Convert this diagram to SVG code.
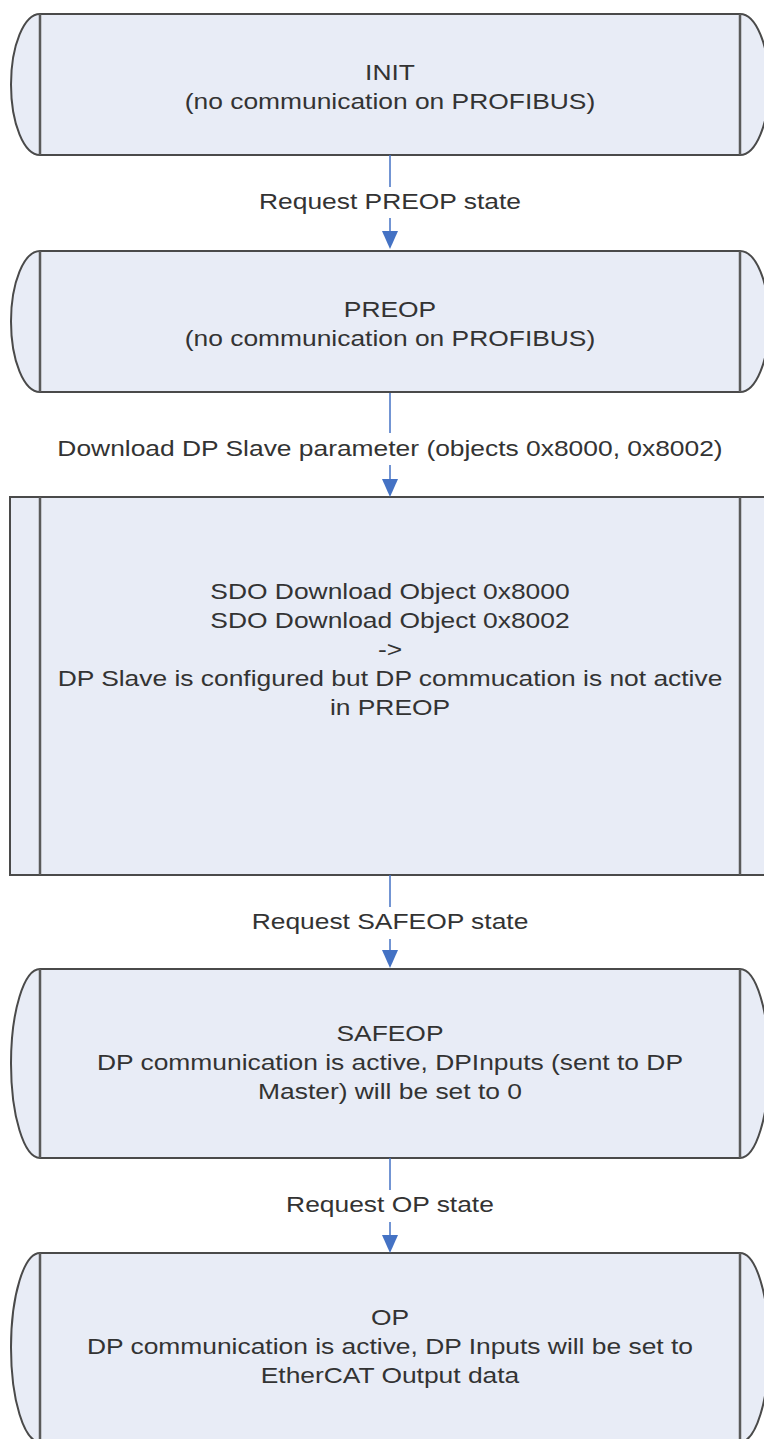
<svg xmlns="http://www.w3.org/2000/svg" width="764" height="1439" viewBox="0 0 764 1439">
<style>
.n{fill:#e8ecf6;stroke:#4a4a4a;stroke-width:2}
.i{stroke:#5a5a5a;stroke-width:2.5;fill:none}
.c{stroke:#4472c4;stroke-width:1.5;fill:none}
.t{font-family:"Liberation Sans",Arial,sans-serif;font-size:22px;fill:#333;text-anchor:middle}
</style>
<defs>
<marker id="ah" viewBox="0 0 18 16" refX="0" refY="8" markerWidth="18" markerHeight="16" markerUnits="userSpaceOnUse" orient="auto"><path d="M0,0 L18,8 L0,16 Z" fill="#4472c4"/></marker>
</defs>
<rect width="764" height="1439" fill="#fff"/>
<g id="init">
<path class="n" d="M40,14 H740 A29,70.5 0 0 1 740,155 H40 A29,70.5 0 0 1 40,14 Z"/>
<path class="i" d="M40,14 V155 M740,14 V155"/>
<g transform="matrix(1.2 0 0 1 -78 0)"><text class="t" x="390" y="80">INIT</text><text class="t" x="390" y="109">(no communication on PROFIBUS)</text></g>
</g>
<g id="preop">
<path class="n" d="M40,251 H740 A29,70.5 0 0 1 740,392 H40 A29,70.5 0 0 1 40,251 Z"/>
<path class="i" d="M40,251 V392 M740,251 V392"/>
<g transform="matrix(1.2 0 0 1 -78 0)"><text class="t" x="390" y="317">PREOP</text><text class="t" x="390" y="346">(no communication on PROFIBUS)</text></g>
</g>
<g id="sdo">
<rect class="n" x="10" y="497" width="762" height="378"/>
<path class="i" d="M40,497 V875 M740,497 V875"/>
<g transform="matrix(1.2 0 0 1 -78 0)"><text class="t" x="390" y="599">SDO Download Object 0x8000</text><text class="t" x="390" y="628">SDO Download Object 0x8002</text><text class="t" x="390" y="657">-&gt;</text><text class="t" x="390" y="686">DP Slave is configured but DP commucation is not active</text><text class="t" x="390" y="715">in PREOP</text></g>
</g>
<g id="safeop">
<path class="n" d="M40,969 H740 A29,94.5 0 0 1 740,1158 H40 A29,94.5 0 0 1 40,969 Z"/>
<path class="i" d="M40,969 V1158 M740,969 V1158"/>
<g transform="matrix(1.2 0 0 1 -78 0)"><text class="t" x="390" y="1041">SAFEOP</text><text class="t" x="390" y="1070">DP communication is active, DPInputs (sent to DP</text><text class="t" x="390" y="1099">Master) will be set to 0</text></g>
</g>
<g id="op">
<path class="n" d="M40,1253 H740 A29,94.5 0 0 1 740,1442 H40 A29,94.5 0 0 1 40,1253 Z"/>
<path class="i" d="M40,1253 V1442 M740,1253 V1442"/>
<g transform="matrix(1.2 0 0 1 -78 0)"><text class="t" x="390" y="1325">OP</text><text class="t" x="390" y="1354">DP communication is active, DP Inputs will be set to</text><text class="t" x="390" y="1383">EtherCAT Output data</text></g>
</g>
<g id="connectors">
<path class="c" d="M390,155 V187"/><path class="c" d="M390,218 V231" marker-end="url(#ah)"/>
<path class="c" d="M390,393 V433"/><path class="c" d="M390,465 V479" marker-end="url(#ah)"/>
<path class="c" d="M390,875 V907"/><path class="c" d="M390,939 V950" marker-end="url(#ah)"/>
<path class="c" d="M390,1158 V1190"/><path class="c" d="M390,1222 V1235" marker-end="url(#ah)"/>
<g transform="matrix(1.2 0 0 1 -78 0)">
<text class="t" x="390" y="209">Request PREOP state</text>
<text class="t" x="390" y="456">Download DP Slave parameter (objects 0x8000, 0x8002)</text>
<text class="t" x="390" y="929">Request SAFEOP state</text>
<text class="t" x="390" y="1212">Request OP state</text>
</g>
</g>
</svg>
